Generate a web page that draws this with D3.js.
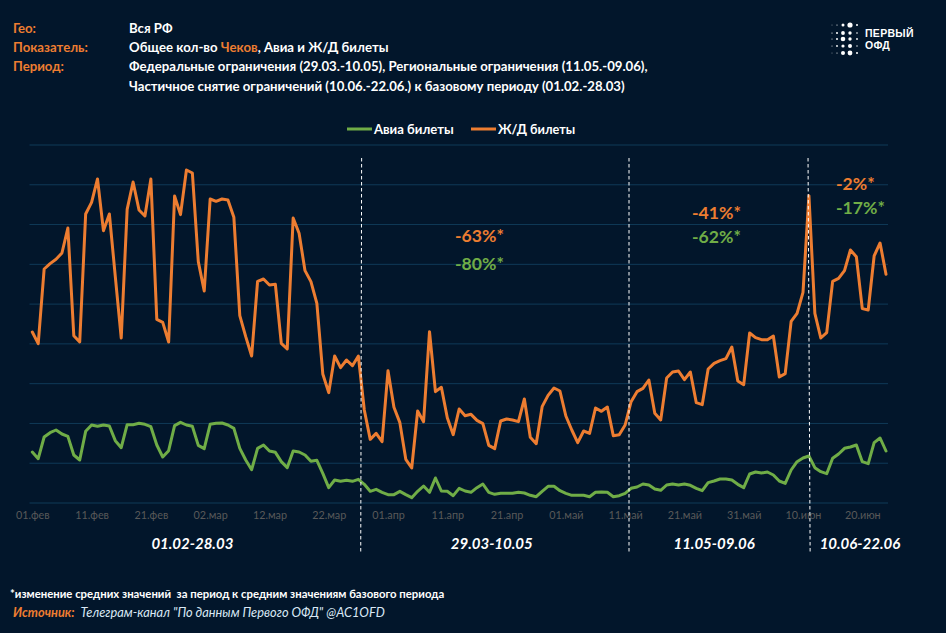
<!DOCTYPE html>
<html><head><meta charset="utf-8">
<script src="https://cdn.jsdelivr.net/npm/d3@7"></script>
<style>html,body{margin:0;padding:0;background:#02162b;overflow:hidden}svg{display:block}text{font-family:Lato,"Open Sans",sans-serif}</style>
</head><body><svg id="c" width="946" height="633"></svg>
<script>
const railTickets=[513,478,702,718,731,750,825,502,483,867,902,972,817,867,679,495,881,963,879,861,972,551,542,483,921,865,999,990,724,636,912,905,912,909,857,562,499,441,665,672,654,656,479,462,855,809,697,664,599,387,331,441,406,429,412,441,279,191,209,184,397,287,241,131,105,276,244,514,334,347,256,205,282,262,266,248,238,173,163,246,252,249,244,312,197,178,289,323,345,336,261,219,181,216,209,285,275,288,202,205,234,304,334,344,369,269,249,375,393,396,370,393,301,295,402,419,427,433,468,366,355,510,496,490,490,501,378,388,545,569,632,922,569,495,511,665,674,697,759,739,583,579,741,780,686];
const airTickets=[153,133,198,211,219,207,200,144,129,215,234,230,234,231,187,166,235,235,239,236,229,174,138,157,232,242,234,230,173,163,236,239,240,234,224,164,129,100,164,174,156,152,124,106,156,153,144,125,128,89,46,69,65,68,65,71,56,35,41,32,25,25,35,25,16,35,51,32,75,36,35,22,44,36,32,46,57,32,26,29,29,29,32,30,23,19,35,50,50,37,29,23,23,23,19,32,33,32,19,22,29,44,48,57,54,42,38,54,57,54,57,53,44,37,61,66,72,72,69,56,46,87,93,90,93,84,66,59,99,124,135,141,106,94,88,134,147,164,168,174,124,118,181,195,156];
const tickIndex=[0,10,20,30,40,50,60,70,80,90,100,110,120,130,140];
const tickLabels=["01.фев","11.фев","21.фев","02.мар","12.мар","22.мар","01.апр","11.апр","21.апр","01.май","11.май","21.май","31.май","10.июн","20.июн"];
const gridLevels=[0,1,2,3,4,5,6,7,8,9];
const gridStep=119.33;
const dividers=[[55.55,55.4],[100.65,100.65],[130.85,131.2]];
const periods=["01.02-28.03","29.03-10.05","11.05-09.06","10.06-22.06"];
const periodCentres=[27,77.5,115,139.6];
const deltaRail=["-63%*","-41%*","-2%*"];
const deltaAir=["-80%*","-62%*","-17%*"];
const deltaLeft=[455,692,836];
const deltaRailY=[242,219,190];
const deltaAirY=[270,243,214];
const legendNames=["Авиа билеты","Ж/Д билеты"];
const ORANGE="#ed7d31",GREEN="#70ad47";

const svg=d3.select("#c");
svg.append("rect").attr("width",946).attr("height",633).attr("fill","#02162b");

const x=d3.scaleLinear().domain([0,144]).range([32.3,886]);
const y=d3.scaleLinear().domain([0,gridStep*9]).range([503,145]);

svg.append("g").selectAll("line").data(gridLevels).join("line")
  .attr("x1",29.5).attr("x2",888)
  .attr("y1",d=>y(d*gridStep)).attr("y2",d=>y(d*gridStep))
  .attr("stroke","#0f3a58").attr("stroke-width",1);

const axis=d3.axisBottom(x).tickValues(tickIndex).tickSize(0).tickPadding(0)
  .tickFormat((d,i)=>tickLabels[i]);
const ag=svg.append("g").attr("transform","translate(0,511)").call(axis);
ag.select(".domain").remove();
ag.selectAll("text").attr("fill","#595959").attr("font-size",10.8)
  .attr("dy","0.71em").style("font-family","Lato,sans-serif");

const line=d3.line().x((d,i)=>x(i)).y(d=>y(d));
[[railTickets,ORANGE],[airTickets,GREEN]].forEach(([s,c])=>{
  svg.append("path").datum(s).attr("d",line).attr("fill","none")
    .attr("stroke",c).attr("stroke-width",3).attr("stroke-linejoin","round").attr("stroke-linecap","round");
});

svg.append("g").selectAll("line").data(dividers).join("line")
  .attr("x1",d=>x(d[0])).attr("x2",d=>x(d[1]))
  .attr("y1",158).attr("y2",552)
  .attr("stroke","#fff").attr("stroke-width",1).attr("stroke-dasharray","3.5 2.5");

// header
const hdr=svg.append("g").attr("font-size",13.2).attr("font-weight",700);
const headL=[["Гео:",33],["Показатель:",52],["Период:",71]];
headL.forEach(([t,yy])=>hdr.append("text").attr("x",13).attr("y",yy).attr("fill",ORANGE).text(t));
const w=(t,yy)=>hdr.append("text").attr("x",129).attr("y",yy).attr("fill","#fff").text(t);
w("Вся РФ",33);
const t2=w("Общее кол-во ",52);
t2.append("tspan").attr("fill",ORANGE).text("Чеков");
t2.append("tspan").text(", Авиа и Ж/Д билеты");
w("Федеральные ограничения (29.03.-10.05), Региональные ограничения (11.05.-09.06),",71);
w("Частичное снятие ограничений (10.06.-22.06.) к базовому периоду (01.02.-28.03)",91);

// legend
const legend=[[347,372,374,GREEN,13.1],[471,496,498,ORANGE,12.7]];
legend.forEach(([a,b,tx,c,fs],i)=>{
  svg.append("line").attr("x1",a).attr("x2",b).attr("y1",129).attr("y2",129).attr("stroke",c).attr("stroke-width",3);
  svg.append("text").attr("x",tx).attr("y",134).attr("fill","#fff").attr("font-size",fs).attr("font-weight",700).text(legendNames[i]);
});

// deltas
deltaRail.forEach((t,i)=>{
  svg.append("text").attr("x",deltaLeft[i]).attr("y",deltaRailY[i]).attr("fill",ORANGE).attr("font-size",17.6).attr("font-weight",700).text(t);
  svg.append("text").attr("x",deltaLeft[i]).attr("y",deltaAirY[i]).attr("fill",GREEN).attr("font-size",17.6).attr("font-weight",700).text(deltaAir[i]);
});

// periods
periods.forEach((t,i)=>{
  svg.append("text").attr("x",x(periodCentres[i])).attr("y",549).attr("text-anchor","middle")
    .attr("fill","#fff").attr("font-size",15).attr("font-weight",700).attr("font-style","italic").text(t);
});

svg.append("text").attr("x",10).attr("y",598).attr("fill","#fff").attr("font-size",11.35).attr("font-weight",700)
  .style("white-space","pre").text("*изменение средних значений  за период к средним значениям базового периода");
const src=svg.append("text").attr("x",13).attr("y",617).attr("font-size",12.8).attr("font-style","italic").attr("fill","#d9e8f5");
src.append("tspan").attr("fill",ORANGE).attr("font-weight",700).text("Источник:");
src.append("tspan").attr("dx",6).text('Телеграм-канал "По данным Первого ОФД" @AC1OFD');

// logo
const logoCols=[832,837,843,850,857];
const logoRows=[25,33,39,46,53];
const logoR=[[.4,.6,1.5,2.6,1],[.6,1,1.9,1.7,.8],[.5,1,2.3,1.7,.9],[.5,.9,1.6,2,.7],[.4,.6,2,2.4,1]];
logoRows.forEach((ry,r)=>logoCols.forEach((cx,c)=>{
  svg.append("circle").attr("cx",cx).attr("cy",ry).attr("r",logoR[r][c]).attr("fill","#fff");
}));
[["ПЕРВЫЙ",36.5],["ОФД",49]].forEach(([t,yy])=>{
  svg.append("text").attr("x",865).attr("y",yy).attr("fill","#fff").attr("font-size",10.5).attr("font-weight",700)
    .attr("letter-spacing",0.3).style("font-family","'Liberation Sans',sans-serif").text(t);
});
</script></body></html>
